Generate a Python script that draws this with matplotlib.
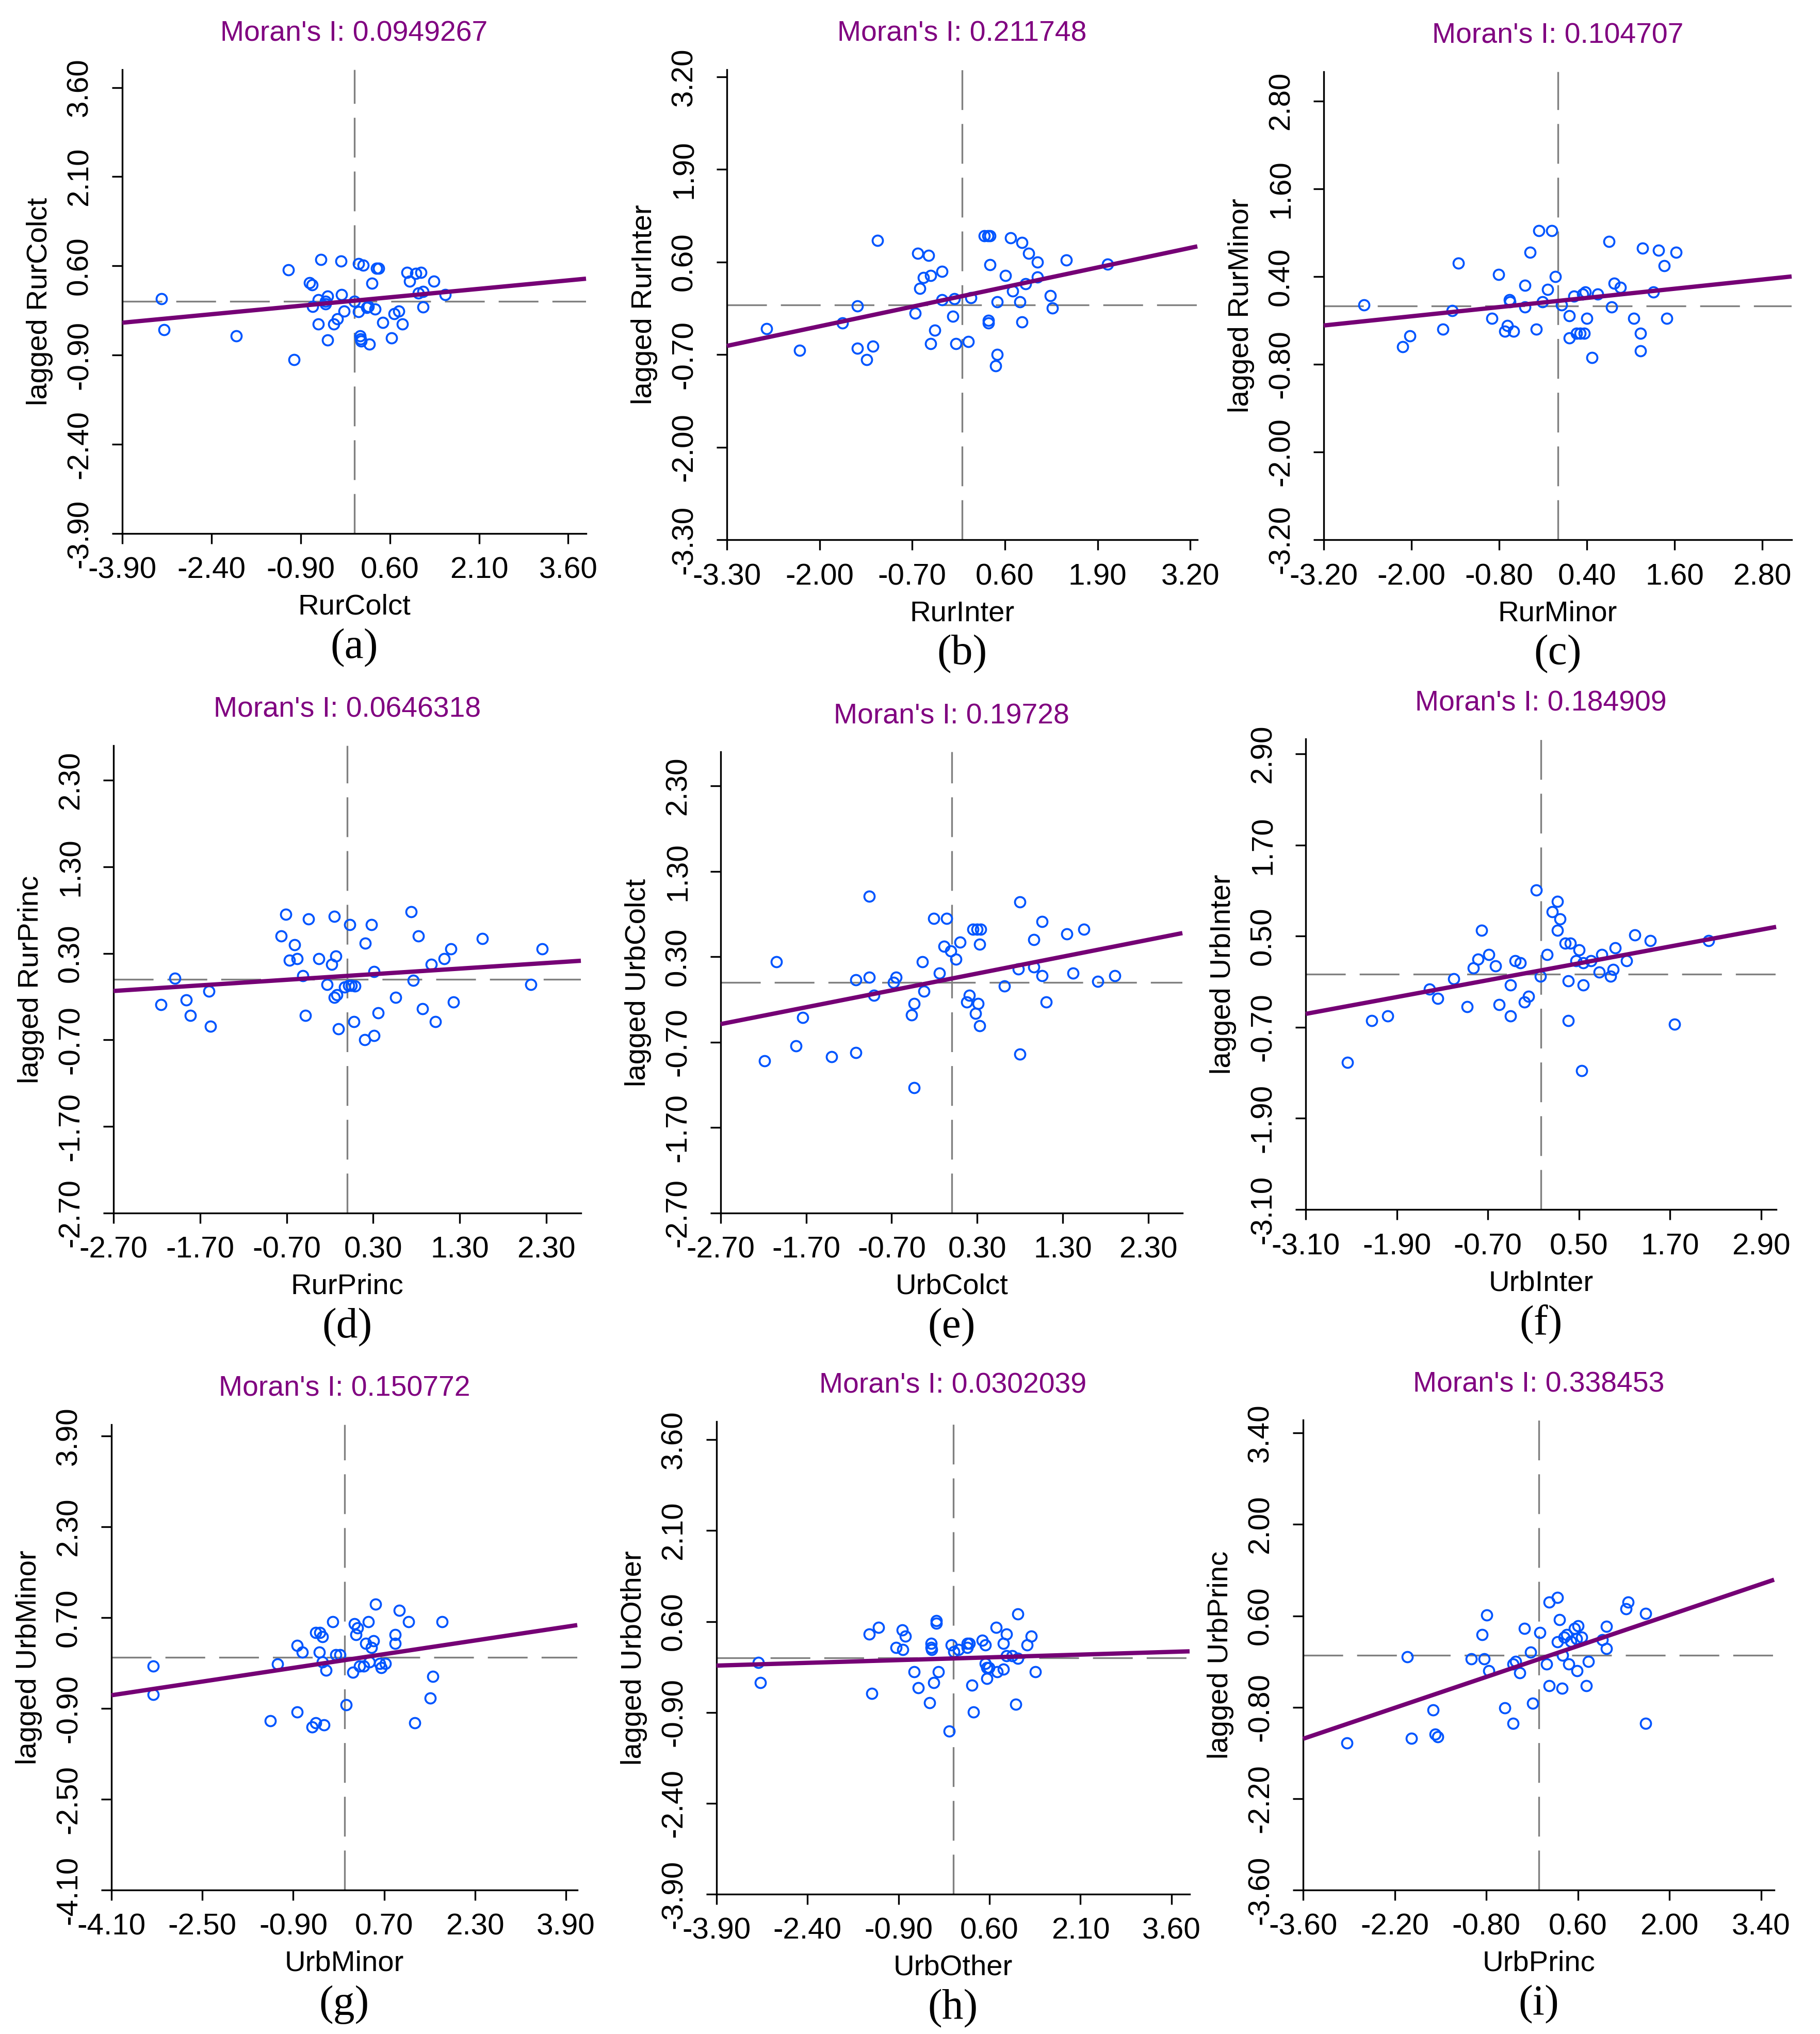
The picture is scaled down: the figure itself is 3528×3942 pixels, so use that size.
import matplotlib
matplotlib.use("Agg")
import matplotlib.pyplot as plt

plt.rcParams['font.family'] = ['Liberation Sans', 'DejaVu Sans']
plt.rcParams['lines.scale_dashes'] = False

# ---------------- data ----------------
names = ["RurColct", "RurInter", "RurMinor", "RurPrinc", "UrbColct",
         "UrbInter", "UrbMinor", "UrbOther", "UrbPrinc"]
moran_labels = ["0.0949267", "0.211748", "0.104707", "0.0646318", "0.19728",
                "0.184909", "0.150772", "0.0302039", "0.338453"]
panel_letters = ["(a)", "(b)", "(c)", "(d)", "(e)", "(f)", "(g)", "(h)", "(i)"]
# fitted-line intercepts
intercepts = [0.015, 0.12, 0.065, 0.04, 0.045, 0.05, -0.05, -0.01, -0.065]
# axis ticks (both axes share the same ticks within a panel)
ticks = [
    [-3.90, -2.40, -0.90, 0.60, 2.10, 3.60],
    [-3.30, -2.00, -0.70, 0.60, 1.90, 3.20],
    [-3.20, -2.00, -0.80, 0.40, 1.60, 2.80],
    [-2.70, -1.70, -0.70, 0.30, 1.30, 2.30],
    [-2.70, -1.70, -0.70, 0.30, 1.30, 2.30],
    [-3.10, -1.90, -0.70, 0.50, 1.70, 2.90],
    [-4.10, -2.50, -0.90, 0.70, 2.30, 3.90],
    [-3.90, -2.40, -0.90, 0.60, 2.10, 3.60],
    [-3.60, -2.20, -0.80, 0.60, 2.00, 3.40],
]

x_a = [-3.24, -3.20, -1.98, -1.11, -1.01, -0.75, -0.71, -0.60, -0.70, -0.56, -0.60, -0.48, -0.48, -0.45, -0.45,
       -0.34, -0.28, -0.22, -0.21, -0.17, 0.0, 0.07, 0.15, 0.07, 0.10, 0.11, 0.12, 0.21, 0.24, 0.26, 0.30, 0.35,
       0.38, 0.41, 0.48, 0.63, 0.67, 0.75, 0.81, 0.89, 0.93, 1.04, 1.12, 1.08, 1.16, 1.16, 1.34, 1.53]
y_a = [0.05, -0.47, -0.58, 0.53, -0.98, 0.32, 0.28, 0.03, -0.08, 0.71, -0.38, 0.0, -0.04, 0.09, -0.65,
       -0.38, -0.29, 0.68, 0.12, -0.16, 0.0, 0.64, 0.61, -0.17, -0.58, -0.63, -0.66, -0.10, -0.08, -0.72, 0.31, -0.13,
       0.56, 0.56, -0.35, -0.61, -0.20, -0.16, -0.38, 0.49, 0.34, 0.47, 0.49, 0.14, 0.17, -0.09, 0.34, 0.12]

x_b = [-2.74, -2.28, -1.68, -1.47, -1.47, -1.34, -1.25, -1.19, -0.66, -0.62, -0.47, -0.59, -0.54, -0.44, -0.28,
       -0.38, -0.44, -0.28, -0.13, -0.11, -0.09, 0.09, 0.12, 0.31, 0.36, 0.39, 0.39, 0.37, 0.37, 0.49, 0.49, 0.47,
       0.61, 0.68, 0.84, 0.71, 0.81, 0.84, 0.89, 0.93, 1.06, 1.06, 1.24, 1.27, 1.46, 2.04]
y_b = [-0.34, -0.64, -0.26, -0.02, -0.61, -0.77, -0.58, 0.90, -0.12, 0.72, 0.69, 0.23, 0.38, 0.41, 0.47,
       -0.36, -0.55, 0.07, -0.16, 0.08, -0.55, -0.52, 0.10, 0.97, 0.97, 0.97, 0.56, -0.22, -0.26, 0.04, -0.70, -0.86,
       0.41, 0.94, 0.87, 0.19, 0.04, -0.24, 0.29, 0.72, 0.60, 0.39, 0.13, -0.05, 0.63, 0.57]

x_c = [-2.65, -2.12, -2.02, -1.57, -1.44, -1.36, -0.90, -0.81, -0.72, -0.69, -0.66, -0.65, -0.60, -0.45, -0.45,
       -0.38, -0.29, -0.26, -0.21, -0.14, -0.08, -0.03, 0.05, 0.16, 0.16, 0.22, 0.26, 0.31, 0.36, 0.34, 0.38, 0.40,
       0.47, 0.55, 0.70, 0.74, 0.77, 0.86, 1.04, 1.13, 1.13, 1.16, 1.31, 1.38, 1.46, 1.49, 1.62]
y_c = [0.01, -0.56, -0.41, -0.32, -0.07, 0.58, -0.17, 0.43, -0.35, -0.27, 0.08, 0.05, -0.35, 0.28, -0.02,
       0.73, -0.32, 1.03, 0.05, 0.22, 1.03, 0.40, 0.01, -0.14, -0.44, 0.13, -0.38, -0.38, -0.38, 0.16, 0.19, -0.17,
       -0.71, 0.16, 0.88, -0.02, 0.31, 0.25, -0.17, -0.38, -0.62, 0.79, 0.19, 0.76, 0.55, -0.17, 0.73]

x_d = [-2.15, -1.99, -1.86, -1.81, -1.60, -1.58, -0.76, -0.71, -0.67, -0.61, -0.58, -0.51, -0.48, -0.45, -0.33,
       -0.23, -0.18, -0.15, -0.13, -0.15, -0.12, -0.10, -0.03, 0.02, 0.05, 0.09, 0.03, 0.08, 0.21, 0.20, 0.28, 0.31,
       0.31, 0.36, 0.56, 0.74, 0.76, 0.82, 0.87, 0.97, 1.02, 1.12, 1.20, 1.23, 1.56, 2.12, 2.25]
y_d = [-0.29, 0.01, -0.24, -0.42, -0.14, -0.54, 0.50, 0.75, 0.22, 0.40, 0.24, 0.04, -0.42, 0.70, 0.24,
       -0.06, 0.17, 0.73, 0.27, -0.21, -0.18, -0.57, -0.09, -0.07, -0.07, -0.08, 0.63, -0.49, 0.42, -0.70, 0.63, 0.09,
       -0.65, -0.39, -0.21, 0.78, -0.01, 0.50, -0.34, 0.17, -0.49, 0.24, 0.35, -0.26, 0.47, -0.06, 0.35]

x_e = [-2.19, -2.05, -1.82, -1.74, -1.40, -1.12, -1.12, -0.96, -0.96, -0.91, -0.68, -0.65, -0.47, -0.44, -0.44,
       -0.34, -0.32, -0.21, -0.14, -0.09, -0.06, -0.01, 0.05, 0.10, 0.18, 0.21, 0.25, 0.30, 0.34, 0.28, 0.31, 0.33,
       0.33, 0.62, 0.78, 0.80, 0.80, 0.96, 0.96, 1.06, 1.06, 1.11, 1.35, 1.42, 1.55, 1.71, 1.91]
y_e = [-0.92, 0.24, -0.74, -0.41, -0.87, 0.03, -0.82, 1.01, 0.06, -0.15, 0.0, 0.06, -0.38, -0.25, -1.23,
       0.24, -0.10, 0.75, 0.11, 0.42, 0.75, 0.37, 0.27, 0.47, -0.23, -0.15, 0.62, 0.62, 0.62, -0.36, -0.25, 0.45,
       -0.51, -0.04, 0.16, 0.94, -0.84, 0.50, 0.18, 0.71, 0.08, -0.23, 0.57, 0.11, 0.62, 0.01, 0.08]

x_f = [-2.55, -2.23, -2.02, -1.47, -1.36, -1.15, -0.97, -0.89, -0.83, -0.78, -0.69, -0.60, -0.55, -0.40, -0.40,
       -0.34, -0.27, -0.22, -0.16, -0.06, -0.01, 0.08, 0.15, 0.22, 0.25, 0.22, 0.32, 0.39, 0.36, 0.36, 0.50, 0.46,
       0.56, 0.56, 0.54, 0.66, 0.77, 0.80, 0.92, 0.95, 0.98, 1.13, 1.24, 1.44, 1.76, 2.21]
y_f = [-1.16, -0.61, -0.55, -0.20, -0.32, -0.06, -0.43, 0.08, 0.20, 0.58, 0.26, 0.11, -0.40, -0.14, -0.55,
       0.18, 0.15, -0.37, -0.29, 1.11, -0.03, 0.26, 0.82, 0.96, 0.73, 0.58, 0.41, 0.41, -0.09, -0.61, 0.32, 0.18,
       0.15, -0.14, -1.27, 0.18, 0.03, 0.26, -0.03, 0.06, 0.35, 0.18, 0.52, 0.44, -0.66, 0.44]

x_g = [-3.36, -3.36, -1.30, -1.18, -0.83, -0.83, -0.74, -0.57, -0.50, -0.36, -0.50, -0.43, -0.39, -0.44, -0.39,
       -0.32, -0.20, -0.15, -0.08, 0.03, 0.15, 0.18, 0.20, 0.23, 0.27, 0.34, 0.38, 0.42, 0.44, 0.48, 0.51, 0.55,
       0.62, 0.65, 0.72, 0.89, 0.89, 0.97, 1.13, 1.24, 1.51, 1.56, 1.72]
y_g = [-0.15, -0.65, -1.12, -0.12, -0.96, 0.21, 0.09, -1.23, -1.15, -1.19, 0.44, 0.44, 0.36, 0.09, -0.08,
       -0.23, 0.63, 0.05, 0.05, -0.84, -0.26, 0.59, 0.40, 0.52, -0.15, -0.15, 0.25, 0.63, -0.08, 0.17, 0.29, 0.94,
       -0.11, -0.18, -0.11, 0.40, 0.25, 0.83, 0.63, -1.15, -0.72, -0.34, 0.63]

x_h = [-3.21, -3.18, -1.38, -1.23, -1.34, -0.94, -0.84, -0.79, -0.83, -0.64, -0.57, -0.39, -0.36, -0.36, -0.35,
       -0.32, -0.28, -0.28, -0.24, -0.06, -0.03, 0.01, 0.09, 0.23, 0.27, 0.23, 0.31, 0.34, 0.48, 0.53, 0.53, 0.56,
       0.59, 0.56, 0.71, 0.73, 0.83, 0.83, 0.88, 0.88, 0.97, 1.03, 1.07, 1.07, 1.22, 1.29, 1.36]
y_h = [-0.08, -0.41, 0.39, 0.50, -0.59, 0.17, 0.46, 0.36, 0.14, -0.23, -0.49, -0.74, 0.24, 0.17, 0.14,
       -0.41, 0.61, 0.57, -0.23, -1.21, 0.21, 0.10, 0.14, 0.24, 0.24, 0.17, -0.45, -0.89, 0.29, 0.21, -0.09, -0.16,
       -0.16, -0.34, 0.50, -0.23, -0.19, 0.24, 0.39, 0.03, 0.03, -0.77, 0.72, -0.01, 0.21, 0.36, -0.23]

x_i = [-2.93, -2.01, -1.94, -1.61, -1.58, -1.54, -1.03, -0.86, -0.83, -0.79, -0.76, -0.52, -0.39, -0.39, -0.35,
       -0.29, -0.22, -0.12, -0.09, 0.02, 0.12, 0.16, 0.16, 0.29, 0.29, 0.32, 0.36, 0.37, 0.39, 0.43, 0.49, 0.55,
       0.58, 0.60, 0.66, 0.46, 0.59, 0.73, 0.76, 0.97, 1.04, 1.04, 1.34, 1.37, 1.64, 1.64]
y_i = [-1.35, -0.03, -1.28, -0.84, -1.21, -1.25, -0.06, 0.31, -0.06, 0.61, -0.24, -0.81, -1.05, -0.14, -0.10,
       -0.27, 0.41, 0.04, -0.74, 0.34, -0.14, 0.81, -0.47, 0.88, 0.20, 0.54, -0.51, 0.0, 0.27, 0.31, 0.21, 0.41,
       0.25, 0.45, 0.27, -0.14, -0.24, -0.47, -0.10, 0.23, 0.44, 0.10, 0.71, 0.81, 0.64, -1.05]

xs = [x_a, x_b, x_c, x_d, x_e, x_f, x_g, x_h, x_i]
ys = [y_a, y_b, y_c, y_d, y_e, y_f, y_g, y_h, y_i]

# ---------------- layout (pixel boxes: left, top, right, bottom) ----------------
W, H = 3528, 3942
DPI = 300
boxes = [
    (237, 135, 1136, 1034), (1409, 135, 2321, 1046), (2566, 139, 3473, 1046),
    (220, 1445, 1126, 2351), (1397, 1457, 2292, 2351), (2531, 1432, 3443, 2344),
    (216, 2761, 1119, 3663), (1389, 2755, 2306, 3671), (2526, 2752, 3439, 3663),
]

PURPLE_T = "#800080"
PURPLE_L = "#750075"
BLUE = "#0055FF"
GREY = "#808080"

fig = plt.figure(figsize=(W / DPI, H / DPI), dpi=DPI, facecolor="white")

for k in range(9):
    L, T, R, B = boxes[k]
    ax = fig.add_axes([L / W, 1 - B / H, (R - L) / W, (B - T) / H])
    tk = ticks[k]
    m = -tk[0]
    ax.set_xlim(-m, m)
    ax.set_ylim(-m, m)

    # reference (mean) lines
    ax.axvline(0, color=GREY, lw=0.8, linestyle=(0, (18.5, 6.5)), zorder=1)
    ax.axhline(0, color=GREY, lw=0.8, linestyle=(0, (18.5, 6.5)), zorder=1)

    # points
    ax.plot(xs[k], ys[k], linestyle="none", marker="o", markersize=4.8,
            markerfacecolor="none", markeredgecolor=BLUE, markeredgewidth=0.9, zorder=2)

    # Moran's I fitted line
    slope = float(moran_labels[k])
    b0 = intercepts[k]
    ax.plot([-m, m], [b0 - slope * m, b0 + slope * m], color=PURPLE_L, lw=2.0,
            solid_capstyle="butt", zorder=3, clip_on=False)

    # axes styling
    for s in ["top", "right"]:
        ax.spines[s].set_visible(False)
    for s in ["left", "bottom"]:
        ax.spines[s].set_linewidth(0.8)
        ax.spines[s].set_color("black")
    ax.set_xticks(tk)
    ax.set_yticks(tk)
    lbls = [f"{v:.2f}" for v in tk]
    ax.set_xticklabels(lbls)
    ax.set_yticklabels(lbls, rotation=90, va="center")
    ax.tick_params(axis="both", direction="out", length=4.8, width=0.8,
                   labelsize=14, colors="black")
    ax.tick_params(axis="x", pad=6)
    ax.tick_params(axis="y", pad=8.5)

    wpx = R - L
    hpx = B - T
    ax.text(0.5, 1 + 69 / hpx, "Moran's I: " + moran_labels[k], transform=ax.transAxes,
            ha="center", va="center", fontsize=13.3, color=PURPLE_T)
    ax.text(0.5, -143 / hpx, names[k], transform=ax.transAxes,
            ha="center", va="center", fontsize=13.5, color="black")
    ax.text(0.5, -222 / hpx, panel_letters[k], transform=ax.transAxes,
            ha="center", va="center", fontsize=20, color="black",
            family=["Liberation Serif", "DejaVu Serif"])
    ax.text(-160 / wpx, 0.5, "lagged " + names[k], transform=ax.transAxes,
            ha="center", va="center", rotation=90, fontsize=13.5, color="black")

fig.savefig("out.png", dpi=DPI, facecolor="white")
